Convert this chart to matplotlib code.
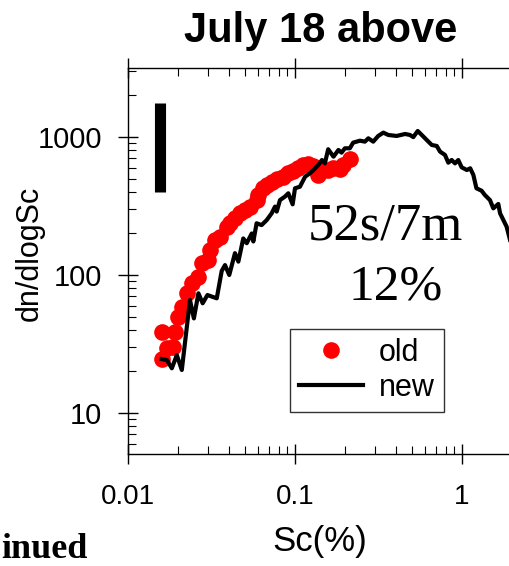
import matplotlib
matplotlib.use("Agg")
import matplotlib.pyplot as plt
from matplotlib.ticker import LogLocator, NullFormatter, FixedLocator, FixedFormatter

plt.rcParams['font.family'] = ['Liberation Sans', 'DejaVu Sans']

# old measurement (red dots)
old_sc = [0.0159, 0.0171, 0.0187, 0.0159, 0.0191, 0.0200, 0.0210, 0.0225, 0.0241, 0.0264,
          0.0276, 0.0303, 0.0310, 0.0332, 0.0356, 0.0390, 0.0408, 0.0437, 0.0469, 0.0502,
          0.0538, 0.0589, 0.0603, 0.0646, 0.0677, 0.0725, 0.0777, 0.0851, 0.0912, 0.0977,
          0.1047, 0.112, 0.120, 0.129, 0.138, 0.148, 0.158, 0.170, 0.186, 0.195, 0.213]
old_dn = [24.6, 29.4, 30.3, 38.8, 38.8, 49.9, 59.0, 73.7, 87, 97,
          122, 128, 152, 179, 190, 224, 237, 258, 280, 296,
          313, 349, 380, 425, 449, 474, 494, 516, 546, 567,
          593, 627, 637, 616, 530, 576, 576, 593, 585, 627, 689]

# new measurement (black line)
new_sc = [0.0159, 0.0171, 0.0183, 0.0196, 0.0210, 0.0235, 0.0248, 0.0264, 0.0280, 0.0299,
          0.0340, 0.0364, 0.0381, 0.0404, 0.0437, 0.0458, 0.0490, 0.0514, 0.0551, 0.0563,
          0.0589, 0.0631, 0.0677, 0.0725, 0.0759, 0.0777, 0.0813, 0.0871, 0.0912, 0.0968,
          0.100, 0.107, 0.115, 0.123, 0.129, 0.138, 0.145, 0.151, 0.158, 0.170,
          0.182, 0.190, 0.199, 0.213, 0.223, 0.245, 0.262, 0.275, 0.294, 0.315,
          0.338, 0.362, 0.406, 0.456, 0.488, 0.511, 0.543, 0.574, 0.615, 0.659,
          0.706, 0.739, 0.791, 0.828, 0.867, 0.908, 0.950, 0.995, 1.07, 1.12,
          1.17, 1.22, 1.31, 1.37, 1.47, 1.54, 1.65, 1.69, 1.85, 1.94, 2.1]
new_dn = [24.6, 24.2, 21.1, 26.3, 20.5, 65.9, 48.5, 73.7, 62.4, 71.6,
          67.8, 107, 118, 100, 144, 125, 184, 170, 200, 175,
          237, 230, 250, 280, 313, 288, 349, 370, 391, 325,
          425, 436, 516, 546, 576, 627, 681, 644, 815, 720,
          805, 770, 828, 828, 910, 940, 925, 978, 925, 1017,
          1075, 1034, 1017, 1051, 1034, 998, 1105, 1034, 951, 875,
          861, 783, 741, 651, 681, 644, 681, 603, 576, 593,
          530, 425, 408, 380, 349, 304, 327, 280, 224, 179, 140]

# vertical black bar (upper left)
bar_x = [0.0155, 0.0155]
bar_y = [400, 1760]

x_ticks = [0.01, 0.1, 1, 10]
x_labels = ['0.01', '0.1', '1', '']
y_ticks = [10, 100, 1000]
y_labels = ['10', '100', '1000']

fig = plt.figure(figsize=(5.10, 5.66), dpi=100)
# axes runs past the right edge of the figure (the original is cropped)
ax = fig.add_axes([128 / 510, 1 - 454 / 566, 501 / 510, 386 / 566])

ax.plot(old_sc, old_dn, 'o', color='red', markersize=12, markeredgewidth=0, label='old', zorder=2)
ax.plot(new_sc, new_dn, '-', color='black', lw=3, label='new', zorder=3)
ax.plot(bar_x, bar_y, '-', color='black', lw=8, solid_capstyle='butt')

ax.set_xscale('log')
ax.set_yscale('log')
ax.set_xlim(0.01, 10)
ax.set_ylim(5.05, 3160)

ax.xaxis.set_major_locator(FixedLocator(x_ticks))
ax.xaxis.set_major_formatter(FixedFormatter(x_labels))
ax.yaxis.set_major_locator(FixedLocator(y_ticks))
ax.yaxis.set_major_formatter(FixedFormatter(y_labels))
ax.xaxis.set_minor_locator(LogLocator(base=10, subs=range(2, 10), numticks=20))
ax.yaxis.set_minor_locator(LogLocator(base=10, subs=range(2, 10), numticks=20))
ax.xaxis.set_minor_formatter(NullFormatter())
ax.yaxis.set_minor_formatter(NullFormatter())

ax.tick_params(which='major', direction='inout', length=15, width=1,
               top=True, right=True)
ax.tick_params(which='minor', direction='in', length=6, width=0.8, top=True, right=True)
ax.tick_params(axis='x', which='major', pad=14, labelsize=20)
ax.tick_params(axis='y', which='major', pad=11, labelsize=21)
for s in ax.spines.values():
    s.set_linewidth(1)

ax.set_ylabel('dn/dlogSc', fontsize=22)
ax.yaxis.set_label_coords(-0.166, 0.52)

leg = ax.legend(loc='upper left', bbox_to_anchor=(290 / 510, 1 - 329 / 566),
                bbox_transform=fig.transFigure, fontsize=22, frameon=True, fancybox=False,
                edgecolor='black', handlelength=2.1, borderpad=0.3, labelspacing=0.15,
                handletextpad=0.5, borderaxespad=0)
leg.get_frame().set_linewidth(1)

fig.text(321 / 510, 1 - 42 / 566, 'July 18 above', ha='center', va='baseline',
         fontsize=30, fontweight='bold')
fig.text(320 / 510, 1 - 541 / 566, 'Sc(%)', ha='center', va='center', fontsize=25)
fig.text(385 / 510, 1 - 240 / 566, '52s/7m', ha='center', va='baseline', fontsize=38,
         family='Liberation Serif')
fig.text(396 / 510, 1 - 300 / 566, '12%', ha='center', va='baseline', fontsize=37,
         family='Liberation Serif')
fig.text(88 / 510, 1 - 558 / 566, 'inued', ha='right', va='baseline', fontsize=26,
         fontweight='bold', family='Liberation Serif')

fig.savefig('out.png', dpi=100)
